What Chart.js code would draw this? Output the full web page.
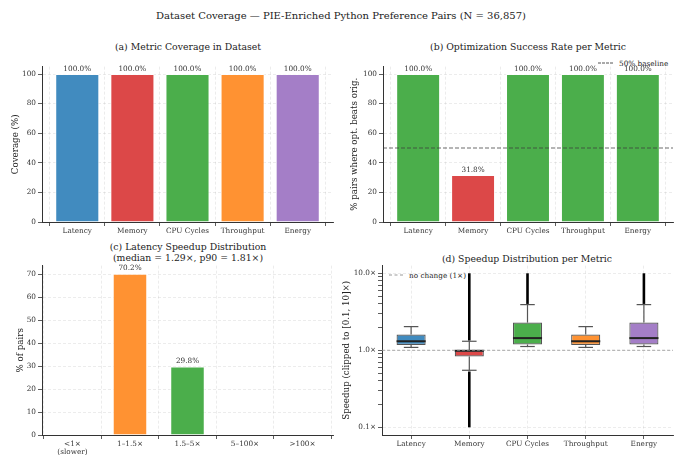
<!DOCTYPE html>
<html>
<head>
<meta charset="utf-8">
<script src="https://cdn.jsdelivr.net/npm/chart.js@4.4.1/dist/chart.umd.min.js"></script>
<style>
body{margin:0;width:682px;height:455px;background:#fff;position:relative;overflow:hidden;font-family:'DejaVu Serif',serif;color:#222}
canvas{position:absolute}
.t{position:absolute;transform:translate(-50%,-50%);white-space:nowrap;text-align:center;line-height:11px}
.lg{position:absolute;font-size:7.3px;white-space:nowrap;display:flex;align-items:center;transform:translateY(-50%);color:#222}
.lg i{display:inline-block;width:15px;margin-right:6px;border-top:1px dashed #555}
</style>
</head>
<body>
<div class="t" style="left:341px;top:15px;font-size:10px">Dataset Coverage — PIE-Enriched Python Preference Pairs (N = 36,857)</div>
<div class="t" style="left:188px;top:46px;font-size:9.3px">(a) Metric Coverage in Dataset</div>
<div class="t" style="left:528px;top:46px;font-size:9.3px">(b) Optimization Success Rate per Metric</div>
<div class="t" style="left:188px;top:252px;font-size:9.3px">(c) Latency Speedup Distribution<br>(median = 1.29×, p90 = 1.81×)</div>
<div class="t" style="left:527px;top:258px;font-size:9.3px">(d) Speedup Distribution per Metric</div>
<div class="lg" style="left:598px;top:63px"><i></i>50% baseline</div>
<div class="lg" style="left:389px;top:275px"><i style="border-color:#999;width:14px"></i>no change (1×)</div>

<canvas id="chartA" width="341" height="184" style="left:0;top:56px"></canvas>
<canvas id="chartB" width="341" height="184" style="left:341px;top:56px"></canvas>
<canvas id="chartC" width="341" height="200" style="left:0;top:255px"></canvas>
<canvas id="chartD" width="341" height="200" style="left:341px;top:255px"></canvas>

<script>
const metrics = ['Latency', 'Memory', 'CPU Cycles', 'Throughput', 'Energy'];
const metricColors = ['rgb(65,139,191)', 'rgb(220,72,72)', 'rgb(75,174,75)', 'rgb(255,146,50)', 'rgb(164,126,199)'];
const green = 'rgb(75,174,75)';
const red = 'rgb(220,72,72)';

// (a)
const coverage = [100, 100, 100, 100, 100];

// (b)
const successRate = [100, 31.8, 100, 100, 100];
const baseline = 50;

// (c)
const speedBins = [['<1×', '(slower)'], '1–1.5×', '1.5–5×', '5–100×', '>100×'];
const speedShare = [0, 70.2, 29.8, 0, 0];
const speedColors = [red, 'rgb(255,146,50)', green, 'rgb(65,139,191)', 'rgb(164,126,199)'];

// (d) box stats
const boxLow = [1.09, 0.55, 1.12, 1.09, 1.12];
const boxQ1 = [1.17, 0.83, 1.19, 1.17, 1.19];
const boxMed = [1.31, 0.985, 1.44, 1.31, 1.44];
const boxQ3 = [1.60, 1.00, 2.29, 1.60, 2.29];
const boxHigh = [2.03, 1.31, 3.92, 2.03, 3.92];
const flierLow = [null, [0.1, 0.53], null, null, null];
const flierHigh = [null, [1.34, 10], [4.0, 10], null, [4.0, 10]];
const noChange = 1;
const logMajor = [0.1, 1, 10];

Chart.defaults.font.family = "'DejaVu Serif', serif";
Chart.defaults.font.size = 7.3;
Chart.defaults.color = '#333';

const grid = {color: 'rgba(176,176,176,0.3)', lineWidth: 0.8, tickColor: '#333', tickLength: 4, tickWidth: 0.8, tickBorderDash: []};
const border = {color: '#333', width: 1, dash: [3, 2]};

const barLabels = {
  id: 'barLabels',
  afterDraw(chart) {
    const ctx = chart.ctx;
    const meta = chart.getDatasetMeta(0);
    ctx.save();
    ctx.font = "7.3px 'DejaVu Serif'";
    ctx.fillStyle = '#333';
    ctx.textAlign = 'center';
    ctx.textBaseline = 'bottom';
    meta.data.forEach((bar, i) => {
      const v = chart.data.datasets[0].data[i].y;
      if (v > 0) ctx.fillText(v.toFixed(1) + '%', bar.x, bar.y - 1.5);
    });
    ctx.restore();
  }
};

const refLine = {
  id: 'refLine',
  afterDatasetsDraw(chart, args, opts) {
    if (opts.value == null) return;
    const {ctx, chartArea, scales} = chart;
    const py = scales.y.getPixelForValue(opts.value);
    ctx.save();
    ctx.strokeStyle = opts.color;
    ctx.lineWidth = opts.width;
    ctx.setLineDash(opts.dash);
    ctx.beginPath();
    ctx.moveTo(chartArea.left, py);
    ctx.lineTo(chartArea.right, py);
    ctx.stroke();
    ctx.restore();
  }
};

function barChart(id, labels, values, colors, opts) {
  return new Chart(document.getElementById(id), {
    type: 'bar',
    data: {
      datasets: [{
        data: values.map((v, i) => ({x: i, y: v})),
        backgroundColor: colors,
        borderColor: 'rgba(255,255,255,0.8)',
        borderWidth: 1,
        categoryPercentage: 1,
        barPercentage: opts.barWidth
      }]
    },
    options: {
      responsive: false,
      animation: false,
      layout: {padding: {top: 10.6, right: opts.padRight, left: 0, bottom: 0}},
      plugins: {legend: {display: false}, tooltip: {enabled: false}, refLine: opts.refLine || {}},
      scales: {
        x: {
          type: 'linear', offset: false, min: -opts.xPad, max: labels.length - 1 + opts.xPad, z: 1,
          afterBuildTicks: a => { a.ticks = labels.map((l, i) => ({value: i})); },
          ticks: {callback: v => labels[v], autoSkip: false, maxRotation: 0, padding: 1, font: {lineHeight: 1.1}},
          grid: grid, border: border,
          afterFit: s => { s.height = opts.xHeight; }
        },
        y: {
          min: 0, max: opts.yMax, z: 1,
          ticks: {stepSize: opts.yStep, includeBounds: false, padding: 2},
          grid: grid, border: border,
          title: {display: true, text: opts.yTitle, font: {size: 8.7}, color: '#222', padding: {top: opts.titlePad, bottom: 0}},
          afterFit: s => { s.width = opts.yWidth; }
        }
      }
    },
    plugins: [barLabels, refLine]
  });
}

barChart('chartA', metrics, coverage, metricColors,
  {barWidth: 0.8, padRight: 8, xPad: 0.64, xHeight: 18, yMax: 105, yStep: 20, yTitle: 'Coverage (%)', titlePad: 10.6, yWidth: 42});

barChart('chartB', metrics, successRate, successRate.map(v => v >= baseline ? green : red),
  {barWidth: 0.8, padRight: 9, xPad: 0.64, xHeight: 18, yMax: 105, yStep: 20, yTitle: '% pairs where opt. beats orig.', titlePad: 8.6, yWidth: 42,
   refLine: {value: baseline, color: 'rgba(60,60,60,0.85)', width: 0.9, dash: [4, 2]}});

barChart('chartC', speedBins, speedShare, speedColors,
  {barWidth: 0.6, padRight: 8, xPad: 0.53, xHeight: 20, yMax: 73.71, yStep: 10, yTitle: '% of pairs', titlePad: 16, yWidth: 42});

// (d) box plot: boxes are floating bars, whiskers/medians/fliers drawn on the same scales
const boxParts = {
  id: 'boxParts',
  afterDatasetsDraw(chart) {
    const {ctx, scales: {y}} = chart;
    const meta = chart.getDatasetMeta(0);
    const py = v => y.getPixelForValue(v);
    const line = (x1, y1, x2, y2) => { ctx.beginPath(); ctx.moveTo(x1, y1); ctx.lineTo(x2, y2); ctx.stroke(); };
    ctx.save();
    metrics.forEach((m, i) => {
      const bar = meta.data[i];
      const cx = bar.x, hw = bar.width / 2, cap = hw / 2;
      ctx.strokeStyle = '#555';
      ctx.lineWidth = 1.2;
      line(cx, py(boxQ1[i]), cx, py(boxLow[i]));
      line(cx, py(boxQ3[i]), cx, py(boxHigh[i]));
      line(cx - cap, py(boxLow[i]), cx + cap, py(boxLow[i]));
      line(cx - cap, py(boxHigh[i]), cx + cap, py(boxHigh[i]));
      ctx.strokeStyle = '#000';
      ctx.lineWidth = 2.6;
      [flierLow[i], flierHigh[i]].forEach(f => { if (f) line(cx, py(f[0]), cx, py(f[1])); });
      ctx.strokeStyle = '#222';
      ctx.lineWidth = 2;
      line(cx - hw, py(boxMed[i]), cx + hw, py(boxMed[i]));
    });
    ctx.restore();
  }
};

const logTicks = [];
[0.1, 1].forEach(d => { for (let k = 1; k < 10; k++) logTicks.push(+(d * k).toFixed(2)); });
logTicks.push(10);

new Chart(document.getElementById('chartD'), {
  type: 'bar',
  data: {
    labels: metrics,
    datasets: [{
      data: metrics.map((m, i) => [boxQ1[i], boxQ3[i]]),
      backgroundColor: metricColors,
      borderColor: '#555',
      borderWidth: 1.2,
      borderSkipped: false,
      categoryPercentage: 1,
      barPercentage: 0.5
    }]
  },
  options: {
    responsive: false,
    animation: false,
    layout: {padding: {top: 10.6, right: 9, left: 0, bottom: 0}},
    plugins: {legend: {display: false}, tooltip: {enabled: false},
      refLine: {value: noChange, color: '#999', width: 0.8, dash: [3, 2]}},
    scales: {
      x: {
        z: 1,
        ticks: {autoSkip: false, maxRotation: 0, padding: 1},
        grid: Object.assign({}, grid, {offset: false}), border: border,
        afterFit: s => { s.height = 20; }
      },
      y: {
        type: 'logarithmic', min: 0.0794, max: 12.59, z: 1,
        afterBuildTicks: a => { a.ticks = logTicks.map(v => ({value: v, major: logMajor.includes(v)})); },
        ticks: {autoSkip: false, padding: 2, callback: v => logMajor.includes(v) ? v.toFixed(1) + '×' : ''},
        grid: Object.assign({}, grid, {color: c => c.tick && logMajor.includes(c.tick.value) ? 'rgba(176,176,176,0.3)' : 'rgba(0,0,0,0)'}),
        border: border,
        title: {display: true, text: 'Speedup (clipped to [0.1, 10]×)', font: {size: 8.7}, color: '#222', padding: {top: 0.6, bottom: 0}},
        afterFit: s => { s.width = 41; }
      }
    }
  },
  plugins: [boxParts, refLine]
});
</script>
</body>
</html>
